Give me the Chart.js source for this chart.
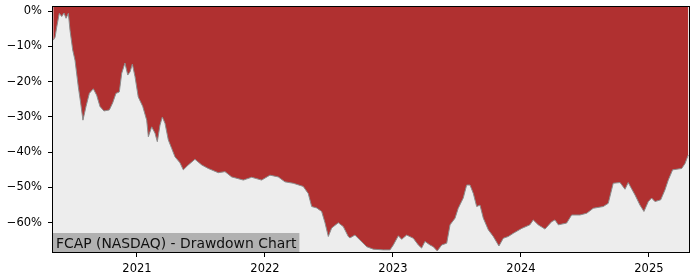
<!DOCTYPE html>
<html>
<head>
<meta charset="utf-8">
<script src="https://cdn.jsdelivr.net/npm/chart.js@4/dist/chart.umd.min.js"></script>
<style>
  body { margin: 0; background: #fff; }
  #wrap { width: 700px; height: 280px; }
</style>
</head>
<body>
<div id="wrap"><canvas id="myChart" width="700" height="280"></canvas></div>
<script>
// decimal years and drawdown in percent
const dates = [
  2020.346, 2020.360, 2020.373, 2020.393, 2020.412, 2020.430, 2020.446, 2020.464, 2020.477, 2020.498,
  2020.516, 2020.542, 2020.560, 2020.578, 2020.602, 2020.628, 2020.659, 2020.685, 2020.711, 2020.742,
  2020.784, 2020.810, 2020.836, 2020.862, 2020.881, 2020.906, 2020.928, 2020.946, 2020.964, 2020.985,
  2021.010, 2021.045, 2021.076, 2021.089, 2021.115, 2021.141, 2021.159, 2021.180, 2021.198, 2021.219,
  2021.245, 2021.271, 2021.297, 2021.336, 2021.362, 2021.401, 2021.453, 2021.506, 2021.557, 2021.635,
  2021.688, 2021.740, 2021.831, 2021.896, 2021.974, 2022.039, 2022.104, 2022.156, 2022.221, 2022.299,
  2022.338, 2022.365, 2022.404, 2022.443, 2022.469, 2022.495, 2022.521, 2022.573, 2022.612, 2022.651,
  2022.664, 2022.703, 2022.742, 2022.795, 2022.846, 2022.924, 2022.977, 2023.003, 2023.042, 2023.068,
  2023.107, 2023.159, 2023.198, 2023.224, 2023.250, 2023.289, 2023.315, 2023.346, 2023.381, 2023.420,
  2023.446, 2023.485, 2023.510, 2023.549, 2023.576, 2023.602, 2023.628, 2023.654, 2023.680, 2023.706,
  2023.745, 2023.784, 2023.828, 2023.862, 2023.901, 2023.940, 2024.006, 2024.070, 2024.096, 2024.135,
  2024.188, 2024.240, 2024.266, 2024.292, 2024.357, 2024.396, 2024.461, 2024.514, 2024.565, 2024.643,
  2024.682, 2024.721, 2024.774, 2024.813, 2024.838, 2024.891, 2024.930, 2024.961, 2024.995, 2025.021,
  2025.047, 2025.092, 2025.125, 2025.151, 2025.185, 2025.256, 2025.282, 2025.307
];
const drawdown = [
  -8.2, -7.4, -4.5, -0.6, -1.5, -0.5, -2.0, -0.6, -5.4, -11.0,
  -13.9, -21.5, -26.0, -30.9, -27.0, -23.3, -22.0, -23.8, -27.0, -28.3,
  -28.0, -26.0, -23.3, -22.9, -17.6, -14.7, -18.1, -17.2, -15.0, -18.6,
  -24.3, -27.0, -30.9, -35.6, -32.8, -34.6, -37.0, -32.3, -30.0, -31.8,
  -36.5, -38.9, -41.3, -43.0, -45.0, -43.6, -42.0, -43.6, -44.6, -45.8,
  -45.5, -47.0, -47.9, -47.1, -47.9, -46.5, -47.0, -48.4, -48.8, -49.7,
  -51.7, -55.4, -55.8, -56.8, -60.0, -63.9, -61.5, -60.0, -61.1, -63.9,
  -64.3, -63.5, -64.9, -66.8, -67.5, -67.7, -67.7, -66.3, -63.7, -64.7,
  -63.5, -64.4, -66.3, -67.2, -65.3, -66.3, -66.8, -68.0, -66.3, -65.8,
  -60.6, -58.7, -55.9, -53.0, -49.3, -49.3, -51.7, -55.4, -55.0, -58.7,
  -62.0, -63.9, -66.6, -64.4, -63.9, -63.0, -61.6, -60.6, -59.2, -60.6,
  -61.8, -59.7, -59.2, -60.6, -60.1, -57.8, -57.8, -57.3, -55.9, -55.4,
  -54.5, -48.8, -48.6, -50.5, -48.6, -52.1, -55.0, -56.8, -54.0, -53.0,
  -54.0, -53.5, -50.7, -47.9, -45.0, -44.6, -43.2, -40.8
];
const yTicks = [0, -10, -20, -30, -40, -50, -60];
const xTicks = [2021, 2022, 2023, 2024, 2025];
const titleText = 'FCAP (NASDAQ) - Drawdown Chart';

const plotBg = {
  id: 'plotBg',
  beforeDraw(chart) {
    const { ctx, chartArea: a } = chart;
    ctx.save();
    ctx.fillStyle = '#ededed';
    ctx.fillRect(a.left, a.top, a.right - a.left, a.bottom - a.top);
    ctx.restore();
  },
  afterDraw(chart) {
    const { ctx, chartArea: a } = chart;
    ctx.save();
    // title box
    ctx.font = '13.9px "DejaVu Sans"';
    const w = ctx.measureText(titleText).width;
    ctx.fillStyle = 'rgba(170,170,170,0.9)';
    ctx.fillRect(a.left, a.bottom - 19, w + 6, 19);
    ctx.fillStyle = '#111';
    ctx.textBaseline = 'alphabetic';
    ctx.fillText(titleText, a.left + 3, a.bottom - 4.5);
    // frame
    ctx.strokeStyle = '#000';
    ctx.lineWidth = 1;
    ctx.strokeRect(a.left - 0.5, a.top - 0.5, a.right - a.left + 1, a.bottom - a.top + 1);
    ctx.restore();
  }
};

const ctx = document.getElementById('myChart').getContext('2d');
const myChart = new Chart(ctx, {
  type: 'line',
  data: {
    datasets: [{
      data: dates.map((d, i) => ({ x: d, y: drawdown[i] })),
      borderColor: '#8c8c8c',
      borderWidth: 1,
      backgroundColor: '#b03030',
      fill: 'end',
      pointRadius: 0,
      tension: 0
    }]
  },
  options: {
    responsive: false,
    animation: false,
    layout: { padding: { top: 7, right: 11, left: 0, bottom: 0 } },
    plugins: { legend: { display: false }, tooltip: { enabled: false } },
    scales: {
      x: {
        type: 'linear',
        min: 2020.344,
        max: 2025.313,
        afterBuildTicks: (scale) => { scale.ticks = xTicks.map(v => ({ value: v })); },
        afterFit: (scale) => { scale.height = 28; scale.paddingLeft = 0; scale.paddingRight = 0; },
        grid: { drawOnChartArea: false, drawTicks: true, tickLength: 5, color: '#000' },
        border: { display: false },
        ticks: {
          color: '#000',
          padding: 5,
          maxRotation: 0,
          font: { family: 'DejaVu Sans', size: 11.5 },
          callback: (v) => String(v)
        }
      },
      y: {
        min: -68.3,
        max: 1.2,
        afterBuildTicks: (scale) => { scale.ticks = yTicks.map(v => ({ value: v })); },
        afterFit: (scale) => { scale.width = 53; scale.paddingTop = 0; scale.paddingBottom = 0; },
        grid: { drawOnChartArea: false, drawTicks: true, tickLength: 5, color: '#000' },
        border: { display: false },
        ticks: {
          color: '#000',
          padding: 6,
          font: { family: 'DejaVu Sans', size: 11.5 },
          callback: (v) => (v < 0 ? '\u2212' + Math.abs(v) : v) + '%'
        }
      }
    }
  },
  plugins: [plotBg]
});
</script>
</body>
</html>
